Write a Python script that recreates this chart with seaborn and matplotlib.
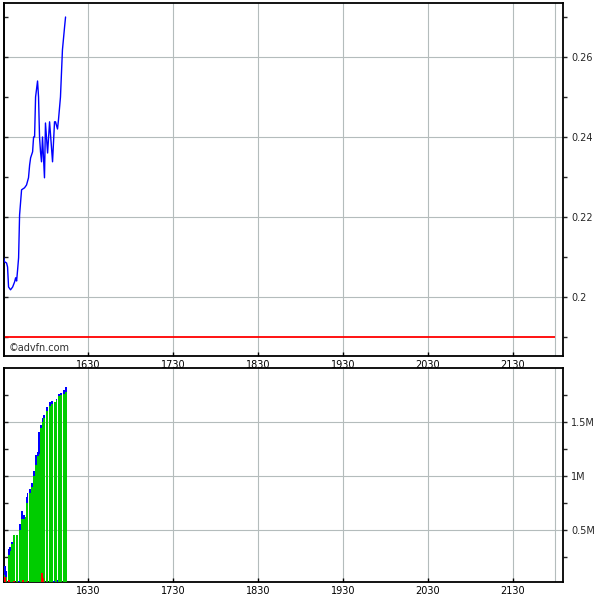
import numpy as np
import pandas as pd
import matplotlib
matplotlib.use("Agg")
import matplotlib.pyplot as plt
import seaborn as sns
from matplotlib.ticker import FixedLocator, FuncFormatter, NullFormatter

# ---- data (time in minutes after 15:30) ----
price_time = [0.0, 0.7, 2.1, 2.8, 3.5, 4.9, 6.4, 7.8, 8.5, 9.2, 9.9, 10.6, 11.3, 12.7,
              14.8, 16.2, 17.6, 18.4, 19.1, 20.5, 21.2, 21.9, 22.6, 24.0, 24.7, 25.4,
              26.1, 26.8, 27.5, 28.9, 29.6, 31.1, 32.5, 34.6, 36.0, 36.7, 38.1, 38.8,
              40.2, 41.6, 43.1, 43.8]
price = [0.2098, 0.2088, 0.2085, 0.2075, 0.2025, 0.2018, 0.2025, 0.2038, 0.2048, 0.2040,
         0.2068, 0.2098, 0.2205, 0.2268, 0.2273, 0.2280, 0.2298, 0.2330, 0.2348, 0.2363,
         0.2400, 0.2400, 0.2500, 0.2540, 0.2500, 0.2400, 0.2363, 0.2338, 0.2400, 0.2298,
         0.2435, 0.2360, 0.2438, 0.2338, 0.2438, 0.2438, 0.2420, 0.2443, 0.2500, 0.2618,
         0.2675, 0.2700]
prev_close = 0.19

vol_time = [0.7, 1.4, 3.5, 4.2, 5.6, 7.1, 9.2, 11.3, 12.7, 14.1, 14.8, 16.2, 16.9, 18.4,
            19.8, 21.2, 22.6, 24.0, 24.7, 26.1, 27.5, 28.9, 30.4, 32.5, 33.9, 36.0, 37.4,
            39.5, 40.9, 42.4, 43.8]
vol_total = [0.16, 0.12, 0.32, 0.34, 0.39, 0.45, 0.45, 0.55, 0.67, 0.64, 0.62, 0.80, 0.84,
             0.88, 0.93, 1.04, 1.19, 1.22, 1.41, 1.47, 1.54, 1.56, 1.64, 1.68, 1.69, 1.68,
             1.71, 1.76, 1.77, 1.80, 1.82]
vol_green = [0.08, 0.06, 0.27, 0.30, 0.37, 0.45, 0.45, 0.50, 0.60, 0.60, 0.62, 0.75, 0.80,
             0.84, 0.90, 1.00, 1.10, 1.18, 1.20, 1.44, 1.50, 1.54, 1.60, 1.65, 1.67, 1.68,
             1.70, 1.74, 1.75, 1.76, 1.78]
red_time = [0.7, 3.5, 7.1, 13.4, 16.9, 26.8, 28.2]
red_vol = [0.06, 0.03, 0.02, 0.03, 0.02, 0.10, 0.05]
small_blue_time = [10.6, 35.3, 38.1, 44.5]
small_blue_vol = [0.02, 0.02, 0.03, 0.01]

tick_pos = [60, 120, 180, 240, 300, 360]
tick_labels = ["1630", "1730", "1830", "1930", "2030", "2130"]
end_of_day = 390

# ---- figure ----
sns.set_style("white")
plt.rcParams['font.family'] = ['DejaVu Sans']
fig = plt.figure(figsize=(6, 6), dpi=100)
ax1 = fig.add_axes([0.006, 1 - 356 / 600, 0.932, (356 - 3) / 600])
ax2 = fig.add_axes([0.006, 1 - 582 / 600, 0.932, (582 - 368) / 600])

grid_c = "#b4bcbc"
for ax in (ax1, ax2):
    ax.set_facecolor("white")
    for s in ax.spines.values():
        s.set_visible(True)
        s.set_color("black")
        s.set_linewidth(1.3)
    for xv in tick_pos + [end_of_day]:
        ax.axvline(xv, color=grid_c, lw=0.8, zorder=0)

# price panel
ylim1 = (0.18525, 0.2735)
for yv in [0.20, 0.22, 0.24, 0.26]:
    ax1.axhline(yv, color=grid_c, lw=0.8, zorder=0)
ax1.hlines(prev_close, 0, end_of_day, color="#ff0000", lw=1.3, zorder=2)
dfp = pd.DataFrame({"t": price_time, "p": price})
sns.lineplot(data=dfp, x="t", y="p", ax=ax1, color="#0000ff", lw=1.0, zorder=3,
             estimator=None, sort=False)
ax1.set_ylim(*ylim1)
ax1.text(3.5, 0.18725, "©advfn.com", fontsize=7, color="#303030", va="center", ha="left")

# volume panel
bar_w = 1.4  # minutes
tot = np.array(vol_total) * 1e6
grn = np.array(vol_green) * 1e6
kw = dict(linewidth=0, edgecolor="none")
ax2.bar(vol_time, grn, width=bar_w, color="#00cc00", zorder=3, **kw)
ax2.bar(vol_time, tot - grn, bottom=grn, width=bar_w, color="#0000ff", zorder=3, **kw)
ax2.bar(red_time, np.array(red_vol) * 1e6, width=bar_w, color="#ff0000", zorder=4, **kw)
ax2.bar(small_blue_time, np.array(small_blue_vol) * 1e6, width=bar_w,
        color="#0000ff", zorder=4, **kw)
for yv in [0.5e6, 1.0e6, 1.5e6]:
    ax2.axhline(yv, color=grid_c, lw=0.8, zorder=0)
ax2.set_ylim(0.015e6, 2.0e6)

for ax in (ax1, ax2):
    ax.set_xlim(0, 395.3)
    ax.set_xlabel("")
    ax.set_ylabel("")
    ax.xaxis.set_major_locator(FixedLocator(tick_pos))
    ax.set_xticklabels(tick_labels)
    ax.tick_params(axis="x", direction="in", length=3, width=1, labelsize=7, pad=3,
                   bottom=True, top=False, colors="black")
    ax.yaxis.tick_right()
    ax.tick_params(axis="y", which="both", direction="out", length=3, width=1,
                   labelsize=7, pad=3, left=False, right=True, labelleft=False,
                   labelright=True)
    ax.grid(False)

ax1.yaxis.set_major_locator(FixedLocator([0.20, 0.22, 0.24, 0.26]))
ax1.yaxis.set_minor_locator(FixedLocator([0.19, 0.21, 0.23, 0.25, 0.27]))
ax1.yaxis.set_major_formatter(FuncFormatter(lambda v, p: f"{v:g}"))
ax2.yaxis.set_major_locator(FixedLocator([0.5e6, 1.0e6, 1.5e6]))
ax2.yaxis.set_minor_locator(FixedLocator([0.25e6, 0.75e6, 1.25e6, 1.75e6]))
ax2.yaxis.set_major_formatter(FuncFormatter(lambda v, p: f"{v / 1e6:g}M"))

# inward ticks on the left spine
for ax, maj, mnr in ((ax1, [0.20, 0.22, 0.24, 0.26], [0.19, 0.21, 0.23, 0.25, 0.27]),
                     (ax2, [0.5e6, 1.0e6, 1.5e6], [0.25e6, 0.75e6, 1.25e6, 1.75e6])):
    sec = ax.secondary_yaxis("left")
    sec.yaxis.set_major_locator(FixedLocator(maj))
    sec.yaxis.set_minor_locator(FixedLocator(mnr))
    sec.yaxis.set_major_formatter(NullFormatter())
    sec.tick_params(axis="y", which="both", direction="in", length=3, width=1)
    sec.spines["left"].set_linewidth(1.3)

fig.savefig("out.png", dpi=100, facecolor="white")
